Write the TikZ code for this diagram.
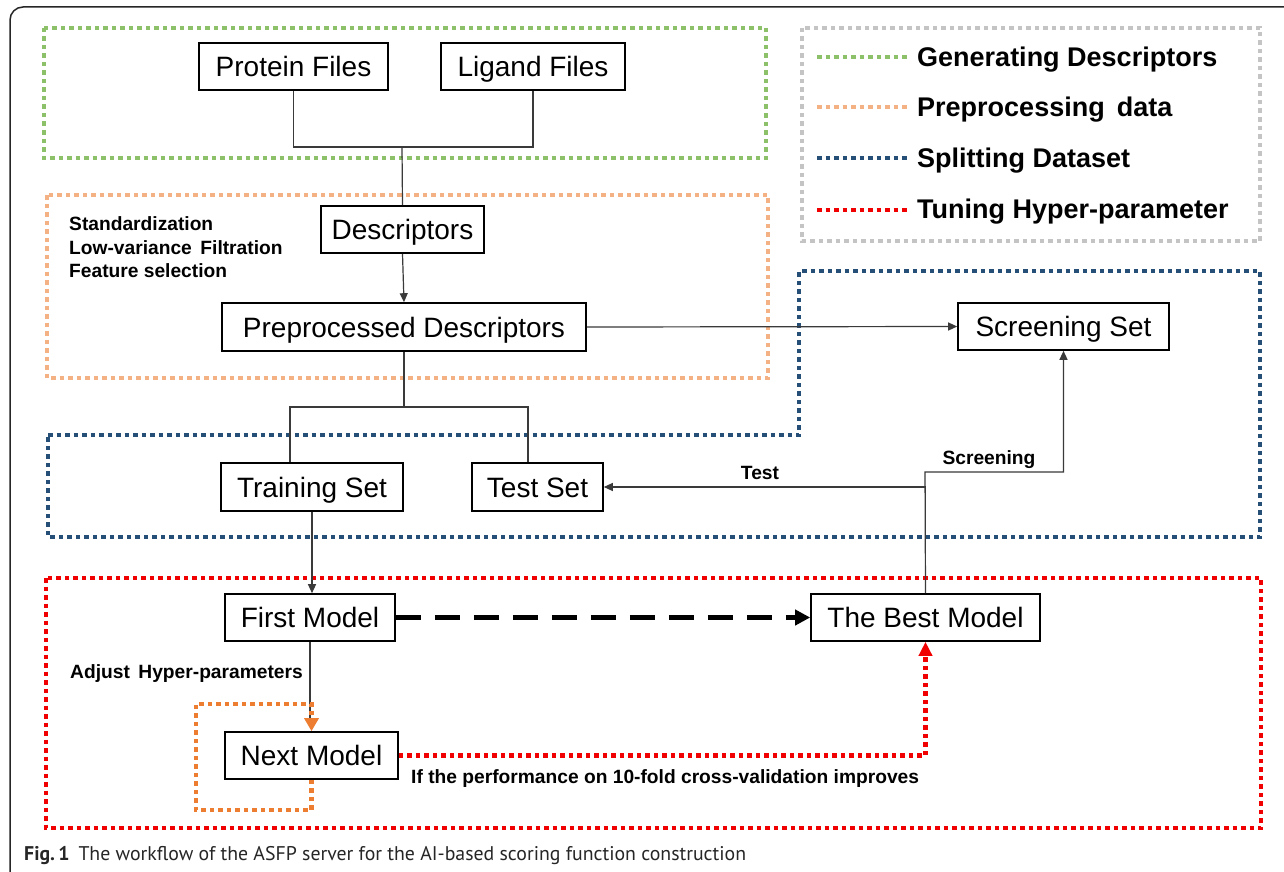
\documentclass[tikz,border=0pt]{standalone}
\usepackage{fontspec}
\setmainfont{Liberation Sans}
\newfontfamily\capfont{PT Sans}
\usetikzlibrary{arrows.meta}
\definecolor{cgreen}{HTML}{8CC16A}
\definecolor{corange}{HTML}{F4B183}
\definecolor{cblue}{HTML}{264F78}
\definecolor{cred}{HTML}{F00000}
\definecolor{cgray}{HTML}{C4C4C4}
\definecolor{cdorange}{HTML}{ED7D31}
\definecolor{cline}{HTML}{3A3A3A}
\begin{document}
\begin{tikzpicture}[x=1pt,y=-1pt,
  box/.style={draw=black, line width=1.6pt, fill=white, inner sep=0pt, font=\fontsize{28}{30}\selectfont, text=black, text height=24pt, text depth=4pt},
  dotbox/.style={line width=4.5pt, dash pattern=on 4.5pt off 4pt},
  conn/.style={draw=cline, line width=1.2pt},
  tip/.style={-{Triangle[length=9pt,width=8pt]}},
  lbl/.style={font=\bfseries\fontsize{19.2}{22}\selectfont, inner sep=0pt, anchor=base west},
  lgd/.style={font=\bfseries\fontsize{27}{30}\selectfont, inner sep=0pt, anchor=base west},
]
\useasboundingbox (0,0) rectangle (1284,872);
\fill[white] (0,0) rectangle (1284,872);
% outer frame
\draw[line width=1.5pt, black!85, rounded corners=13pt] (10,872) -- (10,7) -- (1284,7);

% dotted group boxes
\draw[cgreen, dotbox] (44,28) rectangle (766,158);
\draw[corange, dotbox] (47,195) rectangle (768,378);
\draw[cblue, dotbox] (48,435) -- (799,435) -- (799,271) -- (1260,271) -- (1260,537) -- (48,537) -- cycle;
\draw[cred, dotbox] (46,578) rectangle (1261,828);

% legend
\draw[cgray, dotbox] (802,28) rectangle (1260,241);
\draw[cgreen, dotbox] (817,57) -- (908,57);
\draw[corange, dotbox] (817,107) -- (908,107);
\draw[cblue, dotbox] (817,158) -- (908,158);
\draw[cred, dotbox] (817,210) -- (908,210);
\node[lgd] (lg1) at (917,67) {Generating Descriptors};
\node[lgd] (lg2) at (917,117) {Preprocessing\, data};
\node[lgd] (lg3) at (917,167) {Splitting Dataset};
\node[lgd] (lg4) at (917,218) {Tuning Hyper-parameter};

% nodes
\node[box, minimum width=189pt, minimum height=47pt] (prot) at (293.5,66.5) {Protein Files};
\node[box, minimum width=184pt, minimum height=47pt] (lig) at (533,66.5) {Ligand Files};
\node[box, minimum width=163pt, minimum height=47pt] (desc) at (402.5,229.5) {Descriptors};
\node[box, minimum width=364pt, minimum height=48pt] (pre) at (404,327) {Preprocessed Descriptors};
\node[box, minimum width=211pt, minimum height=47pt] (scr) at (1063.5,326.5) {Screening Set};
\node[box, minimum width=182pt, minimum height=48pt] (train) at (312,487) {Training Set};
\node[box, minimum width=131pt, minimum height=48pt] (test) at (537.5,487) {Test Set};
\node[box, minimum width=170pt, minimum height=47pt] (first) at (310,617.5) {First Model};
\node[box, minimum width=229pt, minimum height=47pt] (best) at (925.5,617.5) {The Best Model};
\node[box, minimum width=173pt, minimum height=47pt] (next) at (311.5,755.5) {Next Model};

% side texts
\node[lbl] (t1) at (69,230) {Standardization};
\node[lbl] (t2) at (69,254) {Low-variance\, Filtration};
\node[lbl] (t3) at (69,277) {Feature selection};
\node[lbl] (adj) at (70,678.5) {Adjust\, Hyper-parameters};
\node[lbl] (iff) at (411,783.5) {If the performance on 10-fold cross-validation improves};
\node[lbl, anchor=base] (ltest) at (760,479) {Test};
\node[lbl, anchor=base] (lscr) at (989,464) {Screening};

% coordinates
\coordinate (j1) at (402,147);
\coordinate (j2l) at (290,407);
\coordinate (j2r) at (528,407);
\coordinate (j3) at (925,472);
\coordinate (lb) at (196,810);
\coordinate (lt) at (196,704);
\coordinate (oa) at (311,719);

% connectors
\draw[conn] (prot.south) |- (j1) -| (lig.south);
\draw[conn] (j1) -- (desc.north);
\draw[conn, tip] (desc.south) -- (pre.north);
\draw[conn, tip] (pre.east) -- (scr.west);
\draw[conn] (pre.south) -- (pre.south |- j2l);
\draw[conn] (train.north -| j2l) -- (j2l) -- (j2r) -- (test.north -| j2r);
\draw[conn, tip] (train.south) -- (train.south |- first.north);
\draw[conn] (first.south) -- (first.south |- oa);
\draw[conn, tip] (best.north) |- (test.east);
\draw[conn, tip] (best.north) -- (j3) -| (scr.south);

% orange loop
\draw[cdorange, dotbox, -{Triangle[length=13pt,width=14pt]}] (next.south) |- (lb) -- (lt) -| (next.north);

% thick dashed arrow
\draw[black, line width=5pt, dash pattern=on 25pt off 14pt, -{Triangle[length=15pt,width=15pt]}] (first.east) -- (best.west);

% red dotted arrow
\draw[cred, dotbox, -{Triangle[length=14pt,width=13pt]}] (next.east) -| (best.south);

% caption
\node[anchor=base west, inner sep=0pt, text=black!85] (cap) at (24,860) {\capfont\fontsize{19.8}{22}\selectfont\textbf{Fig.\,1}\hspace{0.45em}The workflow of the ASFP server for the AI-based scoring function construction};
\end{tikzpicture}
\end{document}
